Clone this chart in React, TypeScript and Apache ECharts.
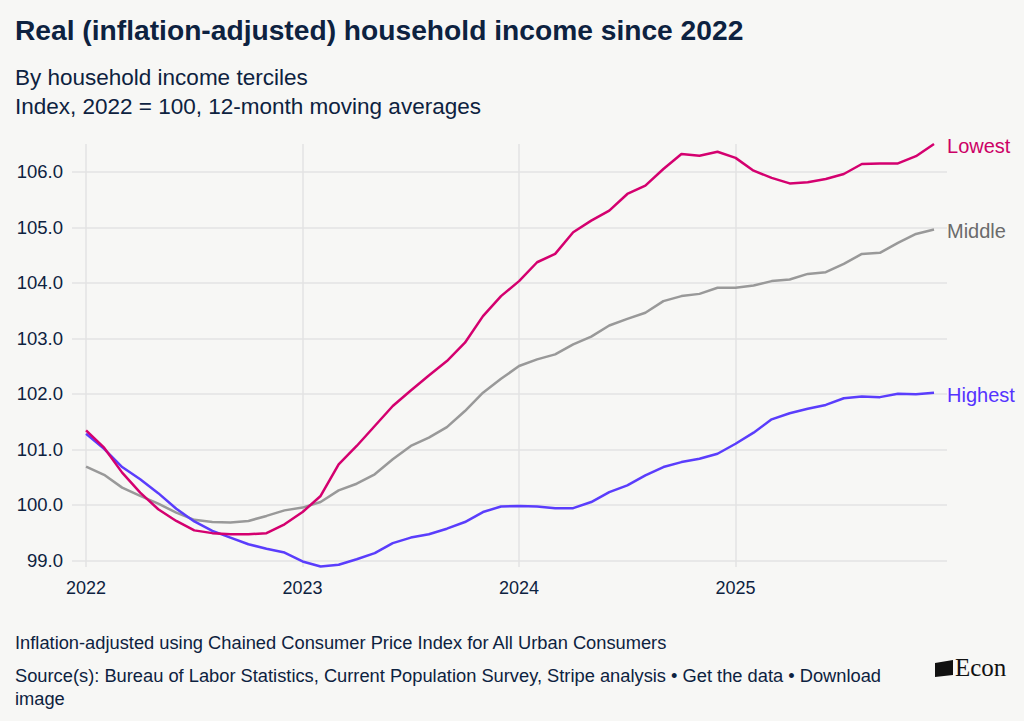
import React, { useEffect, useRef } from "react";
import * as echarts from "echarts";

const months: number[] = Array.from({ length: 48 }, (_, i) => i);
const yearTicks = [0, 12, 24, 36];
const yearLabels = ["2022", "2023", "2024", "2025"];
const yTicks = [99, 100, 101, 102, 103, 104, 105, 106];

const lowest = [
  101.34, 101.03, 100.58, 100.22, 99.92, 99.71, 99.54, 99.49, 99.47, 99.47, 99.49, 99.65,
  99.87, 100.16, 100.73, 101.06, 101.42, 101.78, 102.06, 102.33, 102.59, 102.92, 103.40, 103.76,
  104.03, 104.37, 104.52, 104.91, 105.12, 105.30, 105.60, 105.75, 106.05, 106.32, 106.29, 106.36,
  106.25, 106.02, 105.89, 105.79, 105.81, 105.87, 105.96, 106.14, 106.15, 106.15, 106.28, 106.50,
];
const middle = [
  100.69, 100.54, 100.31, 100.16, 100.02, 99.86, 99.73, 99.69, 99.68, 99.71, 99.80, 99.90,
  99.95, 100.05, 100.26, 100.38, 100.55, 100.82, 101.06, 101.21, 101.40, 101.69, 102.02, 102.27,
  102.50, 102.62, 102.71, 102.89, 103.03, 103.23, 103.35, 103.46, 103.67, 103.76, 103.80, 103.91,
  103.91, 103.95, 104.03, 104.06, 104.16, 104.19, 104.34, 104.52, 104.54, 104.72, 104.88, 104.96,
];
const highest = [
  101.28, 101.01, 100.68, 100.46, 100.21, 99.93, 99.70, 99.53, 99.41, 99.29, 99.21, 99.14,
  98.98, 98.89, 98.92, 99.02, 99.13, 99.31, 99.41, 99.47, 99.57, 99.69, 99.87, 99.97,
  99.98, 99.97, 99.94, 99.94, 100.05, 100.23, 100.35, 100.53, 100.68, 100.77, 100.83, 100.92,
  101.10, 101.30, 101.54, 101.65, 101.73, 101.80, 101.92, 101.95, 101.94, 102.00, 101.99, 102.02,
];

const seriesNames = ["Lowest", "Middle", "Highest"];
const lineColors = ["#d4006f", "#999999", "#5a3dfc"];
const labelColors = ["#cc0066", "#6b6b6b", "#5533ff"];

const TEXT = "#0d2240";
const FONT = "'Liberation Sans', Arial, Helvetica, sans-serif";

export default function App() {
  const ref = useRef<HTMLDivElement>(null);
  useEffect(() => {
    document.body.style.margin = "0";
    document.body.style.background = "#f7f7f5";
    if (!ref.current) return;
    const chart = echarts.init(ref.current, undefined, { renderer: "svg" });
    const data = [lowest, middle, highest];
    chart.setOption({
      animation: false,
      backgroundColor: "#f7f7f5",
      textStyle: { fontFamily: FONT },
      grid: { left: 72, right: 77, top: 144, bottom: 154, containLabel: false },
      xAxis: {
        type: "value",
        min: -0.78,
        max: 47.72,
        axisLine: { show: false },
        axisTick: { show: false, customValues: yearTicks },
        splitLine: { show: true, lineStyle: { color: "#e3e3e3", width: 1.5 } },
        axisLabel: {
          customValues: yearTicks,
          formatter: (v: number) => yearLabels[yearTicks.indexOf(Math.round(v))] ?? "",
          color: TEXT,
          fontSize: 18,
          fontFamily: FONT,
          margin: 12,
        },
      },
      yAxis: {
        type: "value",
        min: 98.88,
        max: 106.5,
        axisLine: { show: false },
        axisTick: { show: false, customValues: yTicks },
        splitLine: { show: true, lineStyle: { color: "#e3e3e3", width: 1.5 } },
        axisLabel: {
          customValues: yTicks,
          formatter: (v: number) => v.toFixed(1),
          color: TEXT,
          fontSize: 18.5,
          fontFamily: FONT,
          margin: 9,
        },
      },
      series: seriesNames.map((name, k) => ({
        name,
        type: "line",
        data: months.map((m, i) => [m, data[k][i]]),
        showSymbol: false,
        symbol: "none",
        lineStyle: { color: lineColors[k], width: 2.5 },
        itemStyle: { color: lineColors[k] },
        z: k === 1 ? 2 : k === 2 ? 3 : 4,
        endLabel: {
          show: true,
          formatter: name,
          color: labelColors[k],
          fontSize: 20,
          fontFamily: FONT,
          distance: 13,
          offset: [0, 2],
        },
      })),
      graphic: [
        {
          type: "text",
          left: 15,
          top: 16,
          style: {
            text: "Real (inflation-adjusted) household income since 2022",
            fill: TEXT,
            font: `bold 28.2px ${FONT}`,
          },
        },
        {
          type: "text",
          left: 15,
          top: 66,
          style: { text: "By household income terciles", fill: TEXT, font: `22.5px ${FONT}` },
        },
        {
          type: "text",
          left: 15,
          top: 95,
          style: {
            text: "Index, 2022 = 100, 12-month moving averages",
            fill: TEXT,
            font: `22.5px ${FONT}`,
          },
        },
        {
          type: "text",
          left: 15,
          top: 633,
          style: {
            text: "Inflation-adjusted using Chained Consumer Price Index for All Urban Consumers",
            fill: TEXT,
            font: `18.3px ${FONT}`,
          },
        },
        {
          type: "text",
          left: 15,
          top: 666,
          style: {
            text: "Source(s): Bureau of Labor Statistics, Current Population Survey, Stripe analysis • Get the data • Download",
            fill: TEXT,
            font: `18.3px ${FONT}`,
          },
        },
        {
          type: "text",
          left: 15,
          top: 689,
          style: { text: "image", fill: TEXT, font: `18.3px ${FONT}` },
        },
        {
          type: "polygon",
          shape: { points: [[935, 663], [953, 660], [953, 675], [935, 677]] },
          style: { fill: "#111111" },
        },
        {
          type: "text",
          left: 955,
          top: 655,
          style: { text: "Econ", fill: "#111111", font: `25px 'Liberation Serif', 'Times New Roman', serif` },
        },
      ],
    });
    return () => chart.dispose();
  }, []);
  return <div ref={ref} style={{ width: 1024, height: 721, background: "#f7f7f5" }} />;
}
